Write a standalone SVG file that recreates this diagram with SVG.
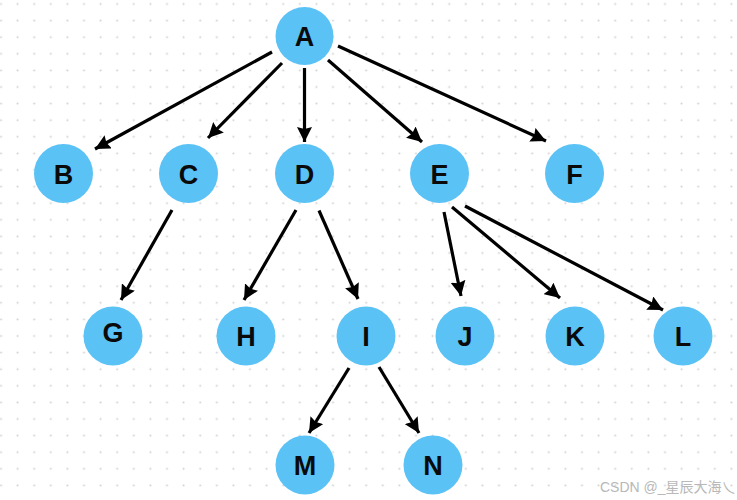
<svg xmlns="http://www.w3.org/2000/svg" width="737" height="500" viewBox="0 0 737 500">
<defs>
<pattern id="dots" x="-7.3" y="-4.3" width="16.6" height="16.6" patternUnits="userSpaceOnUse">
<circle cx="8.3" cy="8.3" r="1" fill="#cfcfcf"/>
</pattern>
<marker id="arr" markerUnits="userSpaceOnUse" markerWidth="16" markerHeight="15" refX="15" refY="7.5" orient="auto">
<path d="M0,0 L15,7.5 L0,15 L2,7.5 z" fill="#000"/>
</marker>
<style>
.node circle{fill:#5bc2f6;}
.node text{font-family:"Liberation Sans",Arial,sans-serif;font-weight:bold;font-size:27px;fill:#0a0a0a;text-anchor:middle;}
.edges line{stroke:#000;stroke-width:3.2;marker-end:url(#arr);}
</style>
</defs>
<rect width="737" height="500" fill="#ffffff"/>
<rect width="737" height="500" fill="url(#dots)"/>
<g class="edges" id="connectors">
<line x1="272" y1="52" x2="95" y2="149"/>
<line x1="282" y1="63" x2="208" y2="138"/>
<line x1="304.5" y1="68" x2="304.5" y2="142"/>
<line x1="328" y1="60" x2="422" y2="142"/>
<line x1="338" y1="46" x2="546" y2="141"/>
<line x1="172" y1="210" x2="121" y2="300"/>
<line x1="296" y1="210" x2="244" y2="300"/>
<line x1="319" y1="210.5" x2="358" y2="299"/>
<line x1="444" y1="212" x2="461" y2="296"/>
<line x1="452" y1="207" x2="560" y2="298"/>
<line x1="465" y1="206" x2="663" y2="310"/>
<line x1="349" y1="368" x2="309" y2="433"/>
<line x1="379" y1="367" x2="419" y2="433"/>
</g>
<g class="node" id="node-A"><circle cx="304.5" cy="36" r="29"/><text x="304.5" y="46">A</text></g>
<g class="node" id="node-B"><circle cx="63.5" cy="173.5" r="29.5"/><text x="63.5" y="183.5">B</text></g>
<g class="node" id="node-C"><circle cx="188.5" cy="173.5" r="29.5"/><text x="188.5" y="183.5">C</text></g>
<g class="node" id="node-D"><circle cx="304.5" cy="173.5" r="29.5"/><text x="304.5" y="183.5">D</text></g>
<g class="node" id="node-E"><circle cx="439.5" cy="173.5" r="29.5"/><text x="439.5" y="183.5">E</text></g>
<g class="node" id="node-F"><circle cx="574.5" cy="173.5" r="29.5"/><text x="574.5" y="183.5">F</text></g>
<g class="node" id="node-G"><circle cx="113" cy="336" r="29.5"/><text x="113" y="342">G</text></g>
<g class="node" id="node-H"><circle cx="246" cy="336" r="29.5"/><text x="246" y="346">H</text></g>
<g class="node" id="node-I"><circle cx="366" cy="336" r="29.5"/><text x="366" y="346">I</text></g>
<g class="node" id="node-J"><circle cx="465" cy="336" r="29.5"/><text x="465" y="346">J</text></g>
<g class="node" id="node-K"><circle cx="575" cy="336" r="29.5"/><text x="575" y="346">K</text></g>
<g class="node" id="node-L"><circle cx="683" cy="336" r="29.5"/><text x="683" y="346">L</text></g>
<g class="node" id="node-M"><circle cx="305" cy="465" r="29.5"/><text x="305" y="475">M</text></g>
<g class="node" id="node-N"><circle cx="433" cy="465" r="29.5"/><text x="433" y="475">N</text></g>
<text x="600" y="492" font-family="'Liberation Sans','Noto Sans CJK SC',sans-serif" font-size="14" fill="#b8b8b8">CSDN @_星辰大海乀</text>
</svg>
